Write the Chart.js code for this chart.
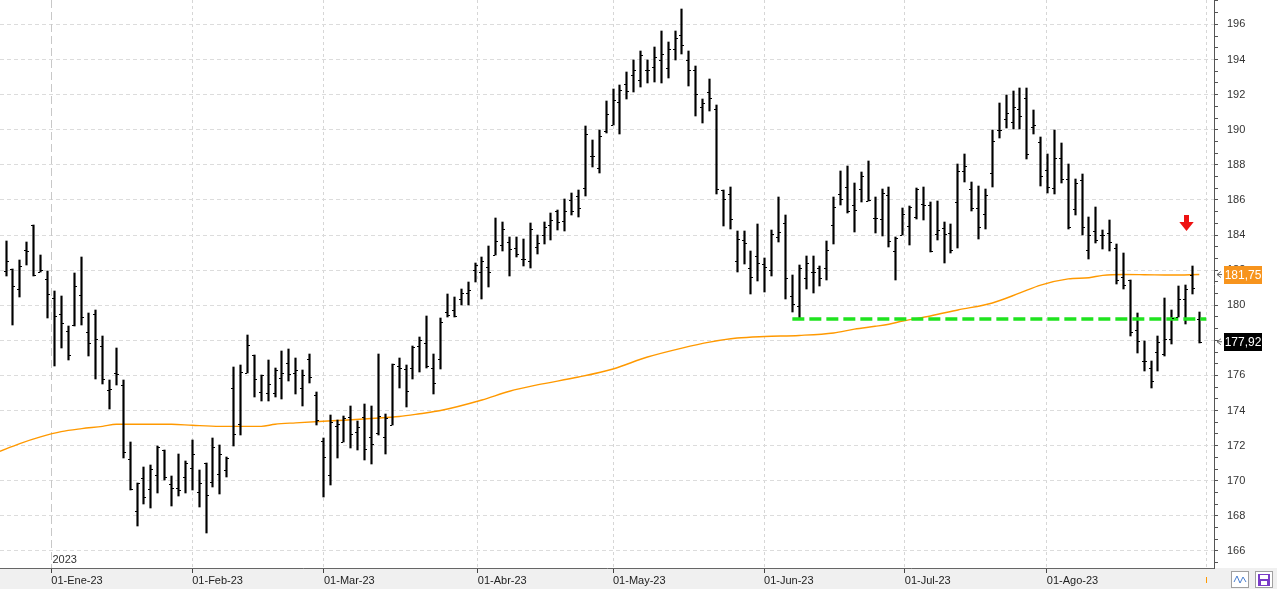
<!DOCTYPE html>
<html>
<head>
<meta charset="utf-8">
<script src="https://cdn.jsdelivr.net/npm/chart.js@4.4.0/dist/chart.umd.min.js"></script>
<style>
html, body { margin: 0; padding: 0; background: #fff; }
canvas { display: block; }
</style>
</head>
<body>
<canvas id="chart" width="1277" height="589"></canvas>
<script>
// daily bars, one per trading day (index 0 = 20-Dic-22)
var opens = [181.95,182.07,180.93,183.15,184.59,181.91,181.50,180.42,179.51,178.54,178.86,180.59,178.48,179.51,177.67,
  175.18,176.16,175.48,171.25,168.29,170.17,169.55,170.30,171.73,169.79,169.60,170.19,170.70,169.37,170.99,169.92,170.40,
  170.63,175.29,173.22,176.14,177.18,175.04,175.00,175.02,175.86,176.71,176.14,175.31,176.94,174.89,172.27,170.34,
  173.13,172.23,173.64,172.79,173.64,172.51,172.74,172.51,173.17,176.53,176.36,176.42,177.66,177.83,176.42,176.92,
  179.60,179.73,180.36,180.69,182.02,181.90,182.17,182.84,183.43,183.60,183.26,182.63,182.51,183.31,184.00,184.59,
  185.39,184.81,186.01,186.22,186.67,188.51,187.81,189.90,190.26,191.56,192.59,193.10,192.82,193.40,193.59,193.95,
  193.50,194.60,195.40,194.00,193.42,191.32,192.17,191.20,186.54,186.31,182.50,183.70,182.10,182.83,182.33,181.99,
  183.89,184.69,180.53,179.96,181.56,181.90,182.15,182.13,184.57,186.36,186.74,185.71,186.63,185.95,184.97,184.93,
  186.26,183.07,184.00,184.51,185.02,185.76,185.71,184.06,184.40,184.09,185.88,187.64,186.62,185.52,185.18,187.51,
  190.00,190.60,190.42,191.20,191.80,190.13,189.28,187.69,186.66,188.37,187.18,185.47,187.14,183.14,184.22,183.99,
  184.09,183.24,181.63,181.44,178.60,176.85,176.42,177.33,177.23,178.08,179.32,180.38,181.72,179.24];
var highs = [183.68,182.07,182.60,183.62,184.59,182.88,181.97,180.80,180.55,178.79,181.86,182.75,179.53,179.75,178.22,
  175.76,177.58,175.76,172.18,169.90,170.76,170.89,171.99,171.73,170.25,171.50,171.10,172.35,170.59,170.99,172.41,172.05,
  171.33,176.50,176.62,178.28,177.18,176.05,176.90,176.45,177.41,177.49,177.01,176.33,177.24,175.08,172.46,173.75,
  173.49,173.68,174.28,173.38,174.40,174.25,177.23,173.81,176.64,176.98,176.60,177.66,178.19,179.38,177.21,179.30,
  180.65,180.48,180.93,181.33,182.42,182.76,183.39,184.99,184.76,183.90,183.90,183.79,184.67,184.00,184.76,185.24,
  185.40,186.05,186.41,186.58,190.20,189.42,189.99,191.64,192.32,192.55,193.29,193.97,194.48,194.00,194.69,195.60,
  195.00,195.60,196.85,194.50,193.61,191.73,192.87,191.39,186.54,186.73,184.23,184.23,183.09,184.63,182.67,184.29,
  186.19,185.16,181.73,182.30,182.82,182.78,182.21,183.68,186.19,187.62,187.92,186.95,187.60,188.23,186.19,186.63,
  186.71,183.87,185.54,185.65,186.67,186.73,185.88,185.93,184.72,184.63,188.04,188.61,187.01,186.82,186.64,189.97,
  191.50,192.00,192.20,192.40,192.40,191.10,189.58,188.62,190.00,189.24,188.05,187.19,187.48,185.03,185.60,184.29,
  184.85,183.49,182.96,181.44,179.54,177.95,176.82,178.26,180.40,179.73,181.12,181.14,182.24,179.62];
var lows = [181.65,178.90,180.45,182.27,181.65,181.88,179.26,176.53,177.55,176.87,178.81,178.90,177.10,175.77,175.50,
  174.11,175.44,171.27,169.47,167.40,168.65,168.45,169.30,170.02,168.56,169.13,169.30,169.47,168.50,167.02,169.66,169.24,
  170.21,172.00,172.58,176.14,174.76,174.57,174.53,174.80,174.63,175.71,174.97,174.25,175.55,173.15,169.07,169.75,
  171.30,172.21,171.87,171.75,171.19,170.94,172.60,171.53,173.17,175.26,174.19,175.77,176.21,176.45,174.96,176.34,
  179.31,179.33,180.00,180.02,181.30,180.38,181.05,182.84,183.07,181.64,182.72,182.21,182.10,182.90,183.49,183.70,
  184.27,184.21,185.12,185.00,186.20,187.85,187.53,189.80,190.26,189.73,191.77,192.13,192.42,192.64,192.70,192.64,
  192.93,194.00,194.30,192.49,190.79,190.39,191.05,186.35,184.53,184.34,181.91,182.35,180.64,181.40,180.78,181.67,
  183.58,180.38,179.64,179.30,180.95,180.67,181.09,181.41,183.50,185.70,185.24,184.15,185.87,185.92,184.10,183.96,
  183.34,181.44,183.98,183.45,184.93,184.87,183.01,183.73,182.39,182.96,183.24,187.03,185.38,183.79,184.34,186.75,
  189.55,190.11,190.06,190.06,188.35,189.75,186.80,186.38,186.34,186.95,184.33,185.15,184.01,182.61,183.52,183.23,
  183.11,181.19,180.91,178.27,177.27,176.23,175.28,176.23,177.08,177.80,179.32,178.94,180.66,177.84];
var closes = [182.52,181.10,182.24,183.09,181.71,181.99,180.64,179.39,179.00,177.18,181.10,179.34,177.86,178.10,175.80,
  175.25,176.10,171.65,169.53,169.85,169.09,170.68,171.93,170.23,169.60,169.49,171.02,171.55,169.89,169.17,171.90,171.52,
  171.29,172.67,176.20,177.75,175.80,176.05,175.52,176.31,176.16,176.10,176.31,176.00,175.91,173.47,171.38,173.32,
  173.23,173.55,172.64,173.09,171.83,172.08,173.68,173.55,176.64,176.40,175.11,177.60,178.00,176.51,175.57,179.06,
  179.47,179.41,180.69,180.88,182.27,182.53,181.89,183.66,184.34,183.20,182.91,182.63,184.34,183.54,184.46,184.86,
  184.74,185.38,185.38,185.54,189.74,188.51,189.65,190.90,191.70,192.27,192.21,193.38,194.24,193.40,194.12,194.31,
  194.60,195.20,194.80,193.42,192.06,191.55,191.83,186.60,186.03,184.89,183.75,183.53,181.59,182.43,182.16,184.06,
  184.19,181.54,180.06,182.11,182.38,181.89,181.56,183.14,185.60,186.06,185.37,185.43,187.35,185.98,184.97,186.38,
  183.64,183.83,185.18,185.59,186.60,185.71,183.07,184.27,184.06,183.13,187.64,187.96,185.52,184.45,186.29,189.35,
  190.00,190.93,191.30,190.80,188.60,190.25,187.35,186.74,188.37,187.18,184.45,186.95,184.45,184.01,183.74,183.99,
  183.58,181.44,181.14,178.50,177.97,176.83,175.70,177.90,178.08,179.30,180.34,180.95,180.97,177.92];

// orange moving average, read at these bar positions
var maIndex = [-1,2,5,8,11,14,16,24,27,31,37,39,42,46,49,53,57,60,63,69,73,77,83,88,93,98,102,106,110,115,120,123,126,128,
  130,134,138,143,147,150,154,157,159,162,165,169,173];
var maValues = [171.66,172.12,172.50,172.80,172.97,173.10,173.22,173.22,173.16,173.10,173.10,173.22,173.30,173.39,173.45,
  173.55,173.66,173.82,174.00,174.60,175.10,175.46,175.91,176.37,177.05,177.56,177.90,178.13,178.22,178.28,178.42,178.64,
  178.80,178.92,179.10,179.39,179.73,180.13,180.70,181.15,181.50,181.57,181.70,181.75,181.74,181.72,181.75];

var monthIndex = [6.57, 27, 46.1, 68.4, 88, 109.9, 130.3, 150.9, 174];
var monthLabels = ["01-Ene-23", "01-Feb-23", "01-Mar-23", "01-Abr-23", "01-May-23", "01-Jun-23", "01-Jul-23", "01-Ago-23", ""];
var yearLabel = "2023";

var supportLevel = 179.22;
var supportStart = 114;
var supportEnd = 174;
var arrowIndex = 171;
var arrowValue = 184.24;

Chart.defaults.font.family = "'Liberation Sans', Arial, sans-serif";

function isMajor(v) {
  return Math.abs(v / 2 - Math.round(v / 2)) < 0.01;
}

function fmt(v) {
  return v.toFixed(2).replace('.', ',');
}

var background = {
  id: 'background',
  beforeDraw(chart) {
    var ctx = chart.ctx;
    ctx.save();
    ctx.fillStyle = '#ffffff';
    ctx.fillRect(0, 0, chart.width, chart.height);
    ctx.fillStyle = '#f0f0f0';
    ctx.fillRect(0, chart.chartArea.bottom, chart.width, chart.height - chart.chartArea.bottom);
    ctx.restore();
  },
  beforeDatasetsDraw(chart) {
    var ctx = chart.ctx, area = chart.chartArea;
    var px = Math.round(chart.scales.x.getPixelForValue(monthIndex[0])) + 0.5;
    ctx.save();
    ctx.strokeStyle = '#c8c8c8';
    ctx.lineWidth = 1;
    ctx.setLineDash([8, 4]);
    ctx.beginPath();
    ctx.moveTo(px, area.top);
    ctx.lineTo(px, area.bottom);
    ctx.stroke();
    ctx.setLineDash([]);
    ctx.fillStyle = '#333';
    ctx.font = "11px 'Liberation Sans', Arial, sans-serif";
    ctx.textBaseline = 'middle';
    ctx.fillText(yearLabel, px + 1, area.bottom - 8);
    ctx.restore();
  }
};

// keep the high-low bars on whole pixels so they stay crisp
var snap = {
  id: 'snap',
  afterDatasetsUpdate(chart) {
    chart.getDatasetMeta(1).data.forEach(function (el) {
      el.x = Math.floor(el.x) + 0.5;
      el.y = Math.round(el.y);
      el.base = Math.round(el.base);
    });
  }
};

// open tick to the left, close tick to the right
var ohlcTicks = {
  id: 'ohlcTicks',
  afterDatasetsDraw(chart) {
    var ctx = chart.ctx, x = chart.scales.x, y = chart.scales.y, area = chart.chartArea;
    ctx.save();
    ctx.beginPath();
    ctx.rect(area.left, area.top, area.width, area.height);
    ctx.clip();
    ctx.fillStyle = '#000';
    for (var i = 0; i < opens.length; i++) {
      var px = Math.floor(x.getPixelForValue(i));
      ctx.fillRect(px - 2, Math.round(y.getPixelForValue(opens[i])), 2, 1);
      ctx.fillRect(px + 1, Math.round(y.getPixelForValue(closes[i])), 2, 1);
    }
    ctx.restore();
  }
};

var extras = {
  id: 'extras',
  afterDraw(chart) {
    var ctx = chart.ctx, x = chart.scales.x, y = chart.scales.y, area = chart.chartArea;
    ctx.save();

    // red arrow
    var ax = Math.round(x.getPixelForValue(arrowIndex));
    var ay = Math.round(y.getPixelForValue(arrowValue));
    ctx.fillStyle = '#ee1111';
    ctx.fillRect(ax - 2, ay - 16, 5, 7.5);
    ctx.beginPath();
    ctx.moveTo(ax - 6.7, ay - 9);
    ctx.lineTo(ax + 7.7, ay - 9);
    ctx.lineTo(ax + 0.5, ay);
    ctx.closePath();
    ctx.fill();

    // price boxes on the axis
    var boxes = [
      { v: maValues[maValues.length - 1], bg: '#f7941d' },
      { v: closes[closes.length - 1], bg: '#000000' }
    ];
    ctx.font = "12px 'Liberation Sans', Arial, sans-serif";
    ctx.textAlign = 'center';
    ctx.textBaseline = 'middle';
    boxes.forEach(function (b) {
      var by = y.getPixelForValue(b.v);
      ctx.fillStyle = b.bg;
      ctx.fillRect(area.right + 10, Math.round(by) - 9, 38, 18);
      ctx.fillStyle = '#fff';
      ctx.fillText(fmt(b.v), area.right + 29, by + 1);
      ctx.strokeStyle = '#666';
      ctx.lineWidth = 1;
      ctx.beginPath();
      ctx.moveTo(area.right + 7, by - 3);
      ctx.lineTo(area.right + 3, by);
      ctx.lineTo(area.right + 7, by + 3);
      ctx.moveTo(area.right + 3, by);
      ctx.lineTo(area.right + 8, by);
      ctx.stroke();
    });

    // current-day mark on the date band
    var sx = Math.round(x.getPixelForValue(monthIndex[monthIndex.length - 1])) + 0.5;
    ctx.strokeStyle = '#ff9900';
    ctx.beginPath();
    ctx.moveTo(sx, area.bottom + 9);
    ctx.lineTo(sx, area.bottom + 15);
    ctx.stroke();

    // small buttons bottom right
    ctx.fillStyle = '#fff';
    ctx.strokeStyle = '#a0a0a0';
    ctx.fillRect(1231.5, 571.5, 17, 16);
    ctx.strokeRect(1231.5, 571.5, 17, 16);
    ctx.strokeStyle = '#4a7fd0';
    ctx.beginPath();
    ctx.moveTo(1234, 582);
    ctx.lineTo(1237, 576);
    ctx.lineTo(1240, 583);
    ctx.lineTo(1243, 577);
    ctx.lineTo(1246, 582);
    ctx.stroke();
    ctx.fillStyle = '#fff';
    ctx.strokeStyle = '#a0a0a0';
    ctx.fillRect(1255.5, 571.5, 17, 16);
    ctx.strokeRect(1255.5, 571.5, 17, 16);
    ctx.fillStyle = '#7a3cc8';
    ctx.fillRect(1258, 574, 12, 12);
    ctx.fillStyle = '#fff';
    ctx.fillRect(1260, 575, 8, 4);
    ctx.fillRect(1261, 581, 6, 4);
    ctx.restore();
  }
};

var ctx = document.getElementById('chart').getContext('2d');
var chart = new Chart(ctx, {
  data: {
    datasets: [
      {
        type: 'line',
        label: 'soporte',
        data: [{ x: supportStart, y: supportLevel }, { x: supportEnd, y: supportLevel }],
        borderColor: '#1fe31f',
        borderWidth: 3.5,
        borderDash: [12, 5],
        pointRadius: 0,
        order: 0
      },
      {
        type: 'bar',
        label: 'precio',
        data: lows.map(function (l, i) { return { x: i, y: [l, highs[i]] }; }),
        backgroundColor: '#000',
        borderWidth: 0,
        barThickness: 1.5,
        grouped: false,
        order: 1
      },
      {
        type: 'line',
        label: 'media',
        data: maIndex.map(function (v, i) { return { x: v, y: maValues[i] }; }),
        borderColor: '#ff9900',
        borderWidth: 1.4,
        pointRadius: 0,
        cubicInterpolationMode: 'monotone',
        order: 2
      }
    ]
  },
  options: {
    responsive: false,
    animation: false,
    devicePixelRatio: 1,
    layout: { padding: 0 },
    plugins: { legend: { display: false }, tooltip: { enabled: false } },
    scales: {
      x: {
        type: 'linear',
        position: 'bottom',
        min: -0.87,
        max: 175.13,
        offset: false,
        afterBuildTicks: function (scale) {
          scale.ticks = monthIndex.map(function (v) { return { value: v }; });
        },
        afterFit: function (scale) {
          scale.height = 21;
          scale.paddingLeft = 0;
          scale.paddingRight = 0;
        },
        grid: {
          offset: false,
          color: function (c) { return c.index === 0 ? 'rgba(0,0,0,0)' : '#d6d6d6'; },
          tickColor: function (c) { return c.index === monthIndex.length - 1 ? 'rgba(0,0,0,0)' : '#444'; },
          tickLength: 5,
          lineWidth: 1
        },
        border: { display: true, color: '#666', width: 1, dash: [3, 3] },
        ticks: {
          autoSkip: false,
          maxRotation: 0,
          align: 'start',
          padding: 1,
          color: '#222',
          font: { size: 11 },
          callback: function (v, i) { return monthLabels[i]; }
        }
      },
      y: {
        type: 'linear',
        position: 'right',
        min: 165.03,
        max: 197.39,
        afterBuildTicks: function (scale) {
          var t = [];
          for (var k = 0; k < 60; k++) {
            var v = 164 + k * 2 / 3;
            if (v > scale.min && v < scale.max) t.push({ value: v });
          }
          scale.ticks = t;
        },
        afterFit: function (scale) {
          scale.width = 63;
          scale.paddingTop = 0;
          scale.paddingBottom = 0;
        },
        grid: {
          color: function (c) { return c.tick && isMajor(c.tick.value) ? '#dcdcdc' : 'rgba(0,0,0,0)'; },
          tickColor: '#555',
          tickLength: 4,
          lineWidth: 1
        },
        border: { display: true, color: '#555', width: 1, dash: [4, 3] },
        ticks: {
          autoSkip: false,
          padding: 9,
          color: '#333',
          font: { size: 11 },
          callback: function (v) { return isMajor(v) ? Math.round(v).toString() : ''; }
        }
      }
    }
  },
  plugins: [background, snap, ohlcTicks, extras]
});
</script>
</body>
</html>
